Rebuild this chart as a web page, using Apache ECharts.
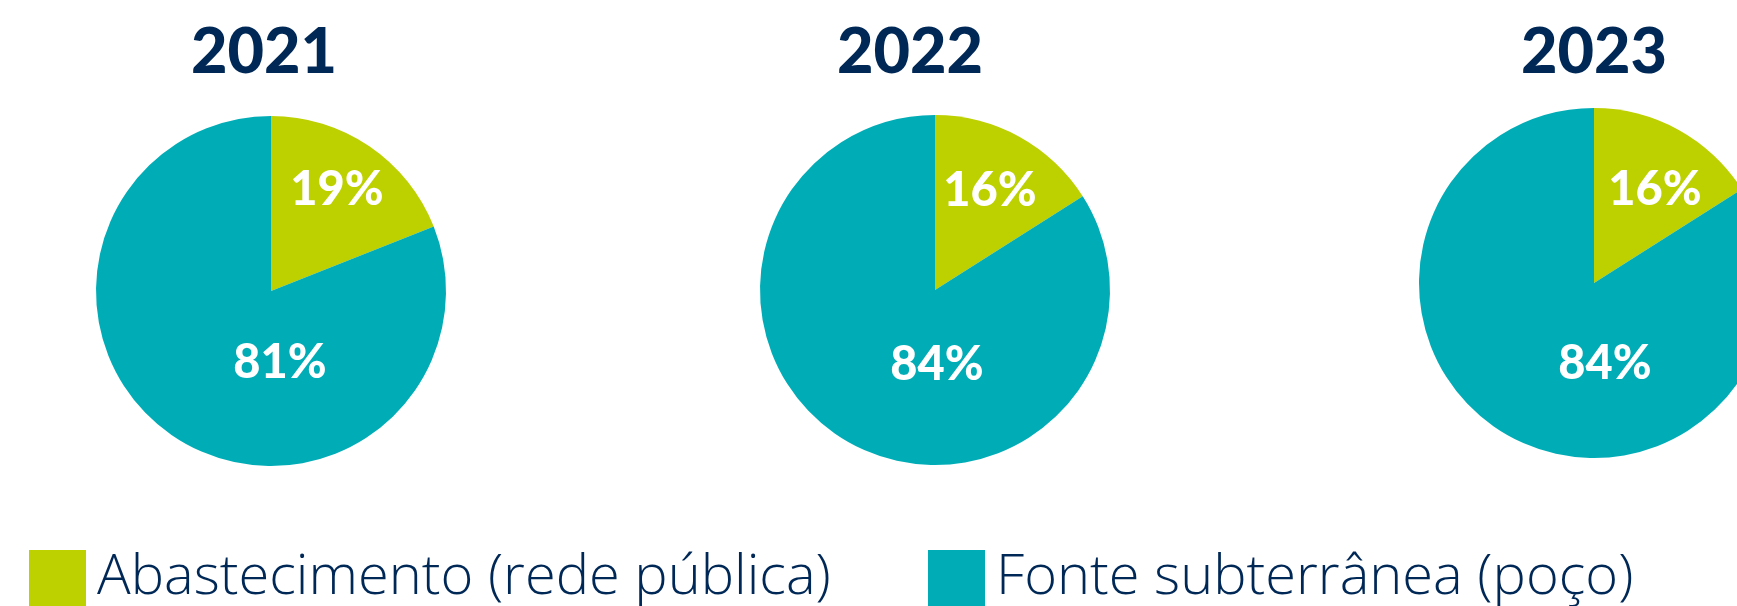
<!DOCTYPE html>
<html>
<head>
<meta charset="utf-8">
<script src="https://cdn.jsdelivr.net/npm/echarts@6/dist/echarts.min.js"></script>
<style>
html,body{margin:0;padding:0;background:#fff;}
#c{width:1737px;height:606px;}
</style>
</head>
<body>
<div id="c"></div>
<script>
// ---- data ----
const years = ['2021', '2022', '2023'];
const categories = ['Abastecimento (rede pública)', 'Fonte subterrânea (poço)'];
const abastecimento = [19, 16, 16];
const fonteSubterranea = [81, 84, 84];

// ---- layout / style ----
const COLORS = ['#BDD000', '#00ADB7'];
const NAVY = '#002856';
const layout = [
  { center: [271, 291], titleX: 264, small: [66, -101], big: [9, 72] },
  { center: [935, 290], titleX: 910, small: [55, -99], big: [2, 75] },
  { center: [1594, 283], titleX: 1594, small: [61, -93], big: [11, 81] }
];
const RADIUS = 175;

const chart = echarts.init(document.getElementById('c'), null, { renderer: 'canvas' });

const series = years.map((y, i) => ({
  type: 'pie',
  name: y,
  center: layout[i].center,
  radius: [0, RADIUS],
  startAngle: 90,
  clockwise: true,
  silent: true,
  animation: false,
  labelLine: { show: false },
  itemStyle: { borderWidth: 0 },
  label: {
    show: true,
    position: 'center',
    formatter: '{c}%',
    color: '#ffffff',
    fontFamily: 'Lato',
    fontWeight: 900,
    fontSize: 47
  },
  emphasis: { disabled: true },
  data: [
    { name: categories[0], value: abastecimento[i], itemStyle: { color: COLORS[0] }, label: { offset: layout[i].small } },
    { name: categories[1], value: fonteSubterranea[i], itemStyle: { color: COLORS[1] }, label: { offset: layout[i].big } }
  ]
}));

const legendBase = {
  orient: 'horizontal',
  top: 550,
  padding: 0,
  icon: 'rect',
  itemWidth: 57,
  itemHeight: 57,
  selectedMode: false,
  textStyle: {
    fontFamily: 'Open Sans',
    fontWeight: 300,
    fontSize: 56,
    color: NAVY,
    padding: [0, 0, 0, 6]
  }
};

const option = {
  backgroundColor: '#ffffff',
  animation: false,
  color: COLORS,
  legend: [
    Object.assign({}, legendBase, { left: 29, data: [categories[0]] }),
    Object.assign({}, legendBase, { left: 928, data: [categories[1]] })
  ],
  graphic: years.map((y, i) => ({
    type: 'text',
    x: layout[i].titleX,
    y: 53,
    silent: true,
    style: {
      text: y,
      fill: NAVY,
      font: '900 63px Lato',
      textAlign: 'center',
      textVerticalAlign: 'middle'
    }
  })),
  series: series
};

chart.setOption(option);
</script>
</body>
</html>
